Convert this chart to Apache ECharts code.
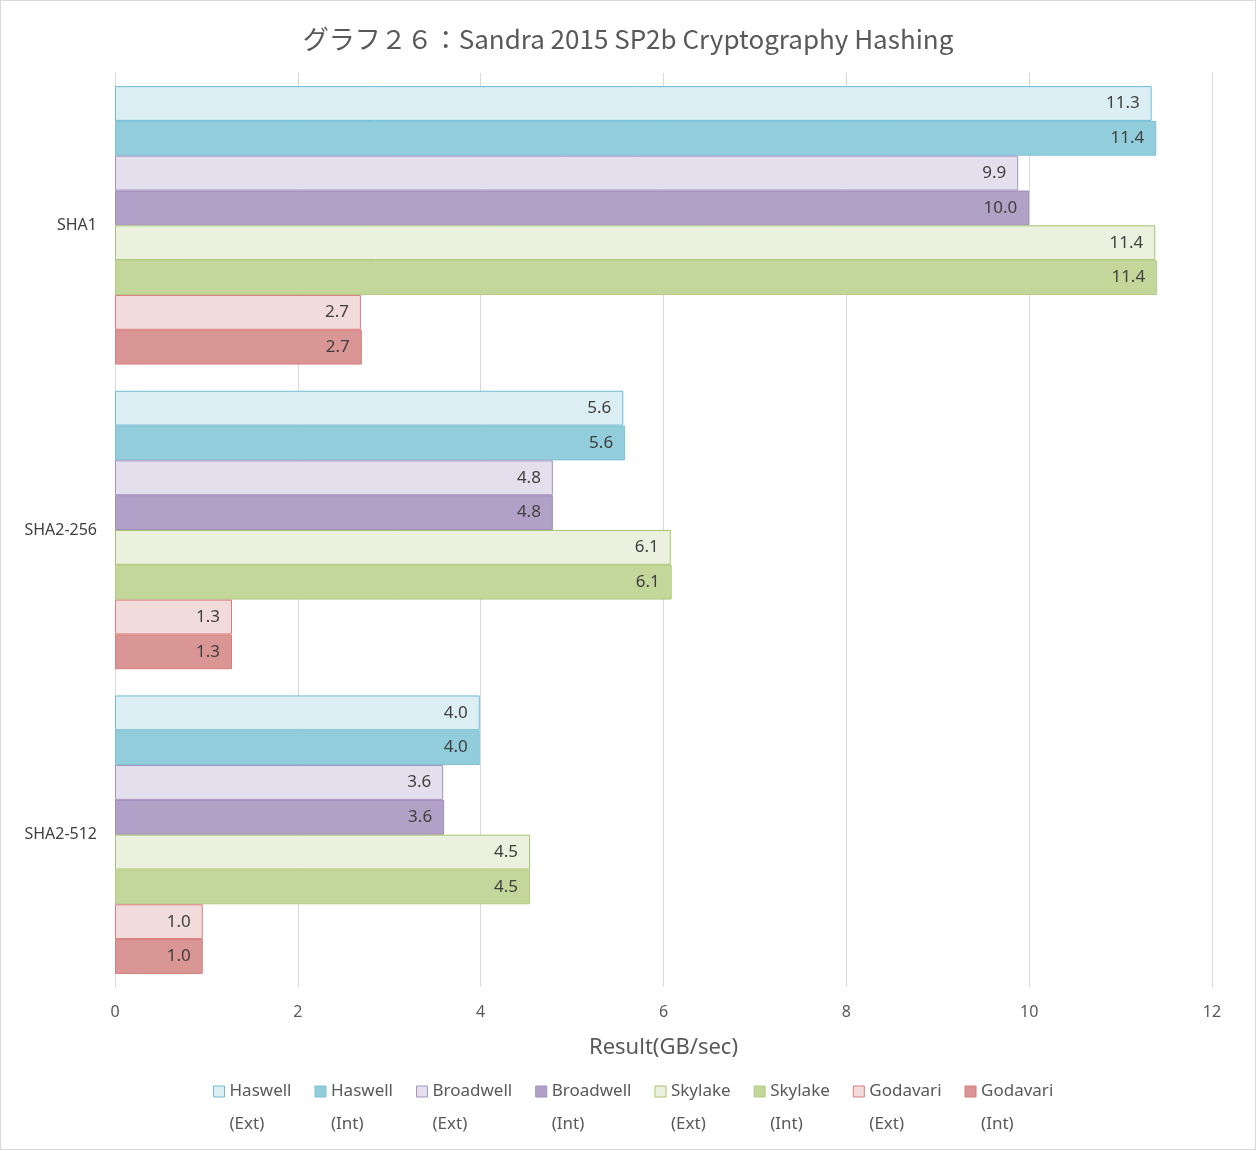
<!DOCTYPE html>
<html>
<head>
<meta charset="utf-8">
<script src="https://cdn.jsdelivr.net/npm/echarts@6/dist/echarts.min.js"></script>
<style>
html,body{margin:0;padding:0;background:#fff;}
#c{width:1256px;height:1150px;box-sizing:border-box;border:1px solid #d9d9d9;}
</style>
</head>
<body>
<div id="c"></div>
<script>
const categories = ['SHA1', 'SHA2-256', 'SHA2-512'];
const seriesNames = ['Haswell\n(Ext)', 'Haswell\n(Int)', 'Broadwell\n(Ext)', 'Broadwell\n(Int)', 'Skylake\n(Ext)', 'Skylake\n(Int)', 'Godavari\n(Ext)', 'Godavari\n(Int)'];
const haswellExt = [11.34, 5.56, 3.99];
const haswellInt = [11.39, 5.58, 3.99];
const broadwellExt = [9.88, 4.79, 3.59];
const broadwellInt = [10.0, 4.79, 3.60];
const skylakeExt = [11.38, 6.08, 4.54];
const skylakeInt = [11.40, 6.09, 4.54];
const godavariExt = [2.69, 1.28, 0.96];
const godavariInt = [2.70, 1.28, 0.96];
const xTicks = [0, 2, 4, 6, 8, 10, 12];

const values = [haswellExt, haswellInt, broadwellExt, broadwellInt, skylakeExt, skylakeInt, godavariExt, godavariInt];
const fills = ['#DAEEF3', '#92CDDC', '#E4DFEC', '#B2A1C7', '#EBF1DE', '#C4D79B', '#F2DCDB', '#DA9694'];
const borders = ['#6FBCD2', '#7FC0D3', '#A892C0', '#A08CBD', '#A8C46E', '#B2CB85', '#D97C7A', '#D67E7C'];

const font = '"Noto Sans", "Noto Sans CJK JP", sans-serif';

const chart = echarts.init(document.getElementById('c'), null, {renderer: 'canvas'});
chart.setOption({
  animation: false,
  backgroundColor: '#fff',
  title: {
    text: 'グラフ２６：Sandra 2015 SP2b Cryptography Hashing',
    left: 'center',
    top: 20,
    textStyle: {fontFamily: '"Noto Sans CJK JP", sans-serif', fontSize: 26, fontWeight: 'normal', color: '#595959'}
  },
  grid: {left: 114, right: 43, top: 72, bottom: 162, containLabel: false},
  legend: {
    top: 1036,
    left: 207,
    icon: 'rect',
    itemWidth: 11,
    itemHeight: 11,
    itemGap: 23,
    formatter: n => '\n' + n,
    textStyle: {fontFamily: font, fontSize: 17, color: '#595959', lineHeight: 33},
    data: seriesNames.map((n, i) => ({name: n, itemStyle: {color: fills[i], borderColor: borders[i], borderWidth: 1}}))
  },
  xAxis: {
    type: 'value',
    min: 0, max: 12, interval: 2,
    name: 'Result(GB/sec)',
    nameLocation: 'middle',
    nameGap: 50,
    nameTextStyle: {fontFamily: font, fontSize: 22, color: '#595959'},
    axisLine: {show: false},
    axisTick: {show: false},
    axisLabel: {fontFamily: font, fontSize: 16, color: '#595959', margin: 17,
      formatter: v => xTicks.includes(v) ? String(v) : ''},
    splitLine: {lineStyle: {color: '#d9d9d9', width: 1}}
  },
  yAxis: {
    type: 'category',
    inverse: true,
    data: categories,
    axisLine: {lineStyle: {color: '#d9d9d9'}},
    axisTick: {show: false},
    axisLabel: {fontFamily: font, fontSize: 16, color: '#404040', margin: 18}
  },
  series: values.map((vals, i) => ({
    name: seriesNames[i],
    type: 'bar',
    data: vals,
    barGap: '0%',
    barCategoryGap: '8.6%',
    itemStyle: {color: fills[i], borderColor: borders[i], borderWidth: 1},
    label: {
      show: true,
      position: 'insideRight',
      distance: 12,
      fontFamily: font,
      fontSize: 17,
      color: '#404040',
      formatter: p => p.value.toFixed(1)
    }
  }))
});
</script>
</body>
</html>
